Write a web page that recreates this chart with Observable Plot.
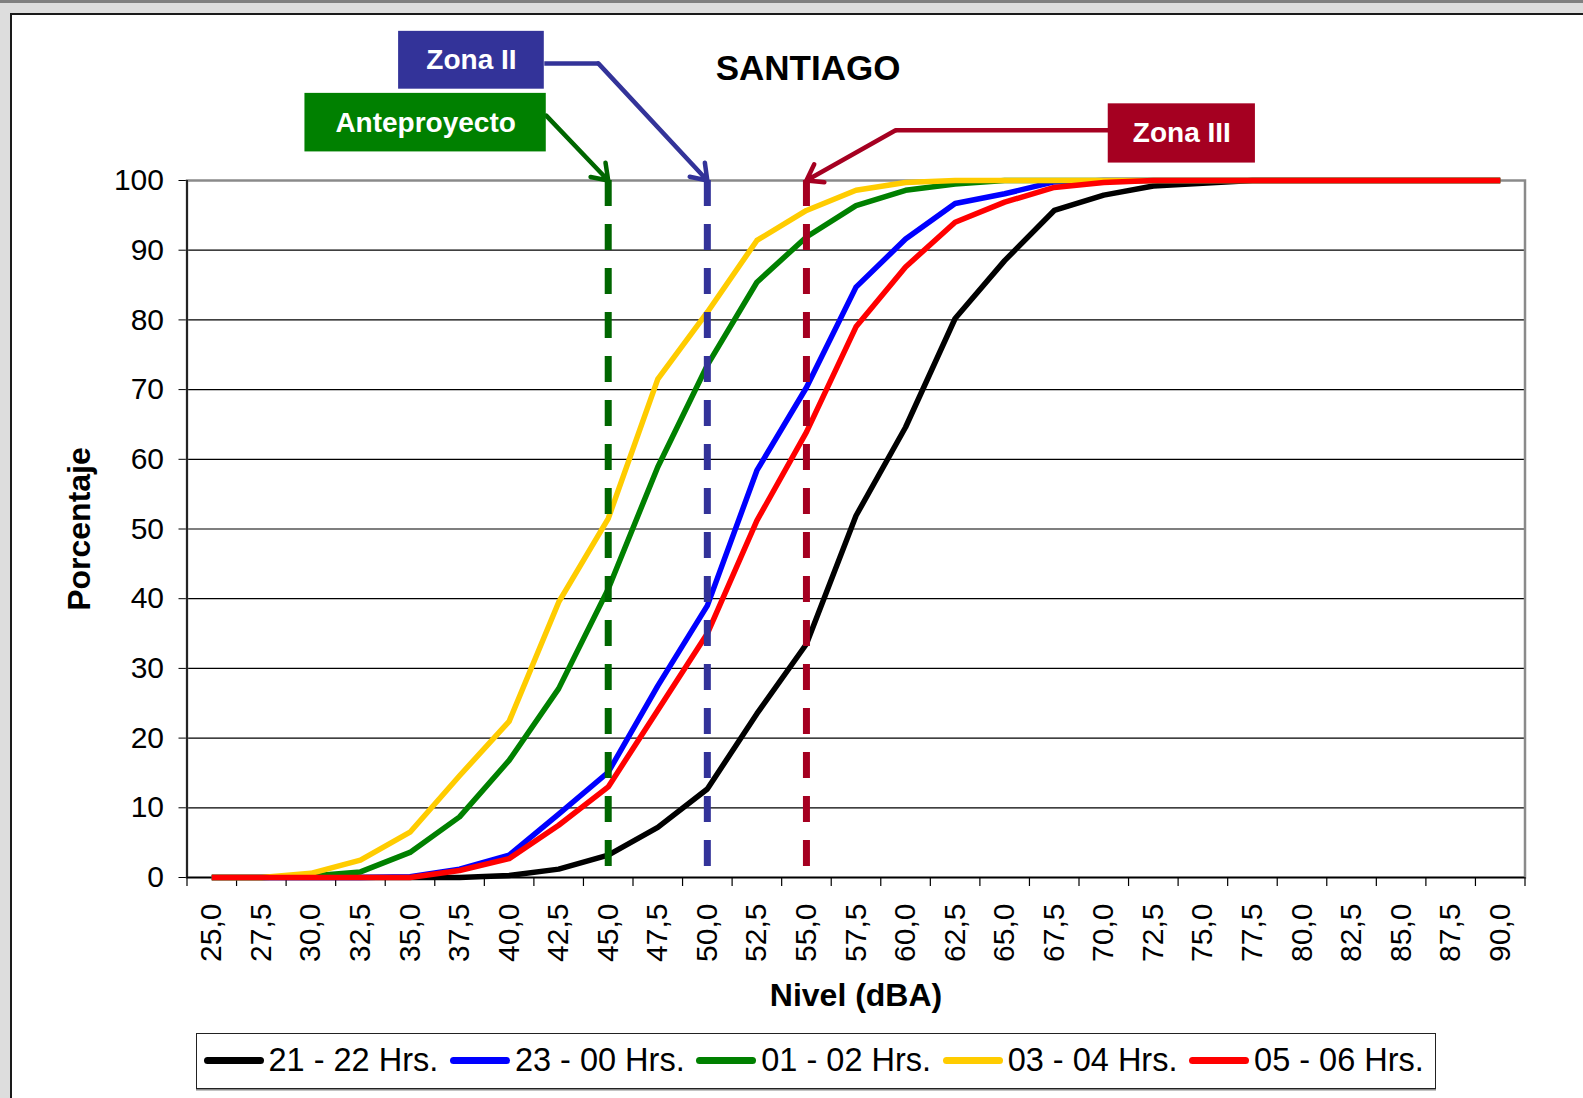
<!DOCTYPE html>
<html>
<head>
<meta charset="utf-8">
<script src="https://cdn.jsdelivr.net/npm/d3@7"></script>
<script src="https://cdn.jsdelivr.net/npm/@observablehq/plot@0.6"></script>
<style>
  html, body { margin: 0; padding: 0; }
  body { width: 1583px; height: 1098px; position: relative; overflow: hidden; background: #DDDDDD; font-family: "Liberation Sans", Arial, sans-serif; }
  #topbar { position: absolute; left: 0; top: 0; width: 1583px; height: 3px; background: #808080; }
  #panel { position: absolute; left: 10px; top: 12.5px; right: 0; bottom: 0; background: #fff; border-left: 2px solid #1a1a1a; border-top: 2.5px solid #1a1a1a; }
  #chart { position: absolute; left: 0; top: 0; }
  #title { position: absolute; left: 608px; width: 400px; top: 49px; text-align: center; font-weight: bold; font-size: 35px; line-height: 38px; color: #000; }
  #legend { position: absolute; left: 195.5px; top: 1032.5px; width: 1231px; height: 54px; border: 1px solid #222; box-shadow: 0 1.5px 0 #888; background: #fff; display: flex; align-items: center; padding-left: 7px; box-sizing: content-box; }
  .item { flex: 0 0 246.4px; display: flex; align-items: center; white-space: nowrap; }
  .sw { width: 60px; height: 7px; border-radius: 4px; margin-right: 5px; }
  .lab { font-size: 32.5px; color: #000; line-height: 1; }
</style>
</head>
<body>
<div id="topbar"></div>
<div id="panel"></div>
<div id="chart"></div>
<div id="title">SANTIAGO</div>
<div id="legend"></div>
<script>
// ---------------- data ----------------
const levels = ["25,0","27,5","30,0","32,5","35,0","37,5","40,0","42,5","45,0","47,5","50,0","52,5","55,0","57,5","60,0","62,5","65,0","67,5","70,0","72,5","75,0","77,5","80,0","82,5","85,0","87,5","90,0"];
const seriesNames = ["21 - 22 Hrs.", "23 - 00 Hrs.", "01 - 02 Hrs.", "03 - 04 Hrs.", "05 - 06 Hrs."];
const seriesColors = ["#000000", "#0000FF", "#008000", "#FFCC00", "#FF0000"];
const s2122 = [0,0,0,0,0,0,0.3,1.2,3.2,7.2,12.7,23.5,33.5,51.9,64.6,80.2,88.5,95.7,97.9,99.2,99.6,100,100,100,100,100,100];
const s2300 = [0,0,0,0,0.1,1.2,3.2,9.1,15.1,27.5,39.0,58.4,70.3,84.7,91.6,96.7,98.1,99.8,100,100,100,100,100,100,100,100,100];
const s0102 = [0,0,0.2,0.8,3.6,8.7,16.8,27.1,41.4,58.9,73.5,85.4,91.9,96.4,98.6,99.5,100,100,100,100,100,100,100,100,100,100,100];
const s0304 = [0,0,0.6,2.5,6.5,14.6,22.4,39.5,51.5,71.5,81.1,91.4,95.7,98.6,99.7,100,100,100,100,100,100,100,100,100,100,100,100];
const s0506 = [0,0,0,0,0,1.0,2.7,7.5,13.0,24.0,35.0,51.2,63.9,79.0,87.6,94.0,96.9,99.0,99.7,100,100,100,100,100,100,100,100];
const seriesValues = [s2122, s2300, s0102, s0304, s0506];
const yTicks = [0,10,20,30,40,50,60,70,80,90,100];

const annLabels = ["Anteproyecto", "Zona II", "Zona III"];
const annLevels = ["45,0", "50,0", "55,0"];
const annLineColors = ["#006600", "#333399", "#A50021"];
const annBoxColors = ["#008000", "#333399", "#A50021"];

// ---------------- layout (annotation placement in chart coordinates) ----------------
const annBoxX = [[1.88, 6.75], [3.77, 6.71], [18.09, 21.06]];
const annBoxY = [[104.1, 112.5], [113.1, 121.4], [102.5, 111.0]];
const annLeadStart = [[6.75, 109.3], [6.71, 116.8], [18.09, 107.2]];
const annElbow = [[6.75, 109.3], [7.80, 116.8], [13.80, 107.2]];

// ---------------- build ----------------
const idx = levels.map((_, i) => i);
const bounds = d3.range(-0.5, levels.length, 1);
const table = [];
seriesNames.forEach((s, k) => seriesValues[k].forEach((v, i) => table.push({i, v, s, c: seriesColors[k]})));
const ann = annLabels.map((label, k) => ({
  label,
  xi: levels.indexOf(annLevels[k]),
  line: annLineColors[k], box: annBoxColors[k],
  bx1: annBoxX[k][0], bx2: annBoxX[k][1], by1: annBoxY[k][0], by2: annBoxY[k][1],
  lx: annLeadStart[k][0], ly: annLeadStart[k][1], ex: annElbow[k][0], ey: annElbow[k][1]
}));

const font = "'Liberation Sans', Arial, sans-serif";
const chart = Plot.plot({
  width: 1583,
  height: 1030,
  marginLeft: 186.5,
  marginRight: 58.5,
  marginTop: 180,
  marginBottom: 153,
  style: {background: "none", fontFamily: font, fontSize: "30px", color: "#000", overflow: "visible"},
  color: {type: "identity"},
  x: {type: "linear", domain: [-0.5, levels.length - 0.5], ticks: idx, tickFormat: i => levels[i], tickRotate: -90, tickSize: 0, tickPadding: 26, label: null},
  y: {domain: [0, 100], ticks: yTicks, tickSize: 8, tickPadding: 15, label: null},
  marks: [
    Plot.ruleY(yTicks.filter(t => t > 0 && t < 100), {y: d => d, stroke: "#000", strokeWidth: 1.2}),
    Plot.frame({stroke: "#8a8a8a", strokeWidth: 2.5}),
    Plot.ruleY([0], {y: d => d, stroke: "#000", strokeWidth: 1.5}),
    Plot.ruleX([-0.5], {x: d => d, stroke: "#000", strokeWidth: 1.5}),
    Plot.ruleX(bounds, {x: d => d, y1: 0, y2: 0, insetBottom: -9, stroke: "#000", strokeWidth: 1.2}),
    Plot.line(table, {x: "i", y: "v", z: "s", stroke: "c", strokeWidth: 5.5, strokeLinejoin: "round", strokeLinecap: "butt"}),
    Plot.ruleX(ann, {x: "xi", y1: 100, y2: 0, stroke: "line", strokeWidth: 7, strokeDasharray: "26,18"}),
    Plot.link(ann, {x1: "lx", y1: "ly", x2: "ex", y2: "ey", stroke: "line", strokeWidth: 4.5}),
    Plot.arrow(ann, {x1: "ex", y1: "ey", x2: "xi", y2: 100, stroke: "line", strokeWidth: 4.5, headLength: 6, headAngle: 70}),
    Plot.rect(ann, {x1: "bx1", x2: "bx2", y1: "by1", y2: "by2", fill: "box"}),
    Plot.text(ann, {x: d => (d.bx1 + d.bx2) / 2, y: d => (d.by1 + d.by2) / 2, text: "label", fill: "#fff", fontWeight: "bold", fontSize: 28}),
    Plot.text(["Porcentaje"], {text: d => d, frameAnchor: "left", textAnchor: "middle", lineAnchor: "middle", dx: -107.5, rotate: -90, fontWeight: "bold", fontSize: 32, fill: "#000"}),
    Plot.text(["Nivel (dBA)"], {text: d => d, frameAnchor: "bottom", textAnchor: "middle", lineAnchor: "middle", dy: 118.5, fontWeight: "bold", fontSize: 32, fill: "#000"})
  ]
});
document.getElementById("chart").appendChild(chart);

const legend = document.getElementById("legend");
seriesNames.forEach((s, k) => {
  const it = document.createElement("div");
  it.className = "item";
  const sw = document.createElement("div");
  sw.className = "sw";
  sw.style.background = seriesColors[k];
  const lb = document.createElement("span");
  lb.className = "lab";
  lb.textContent = s;
  it.appendChild(sw); it.appendChild(lb);
  legend.appendChild(it);
});
</script>
</body>
</html>
